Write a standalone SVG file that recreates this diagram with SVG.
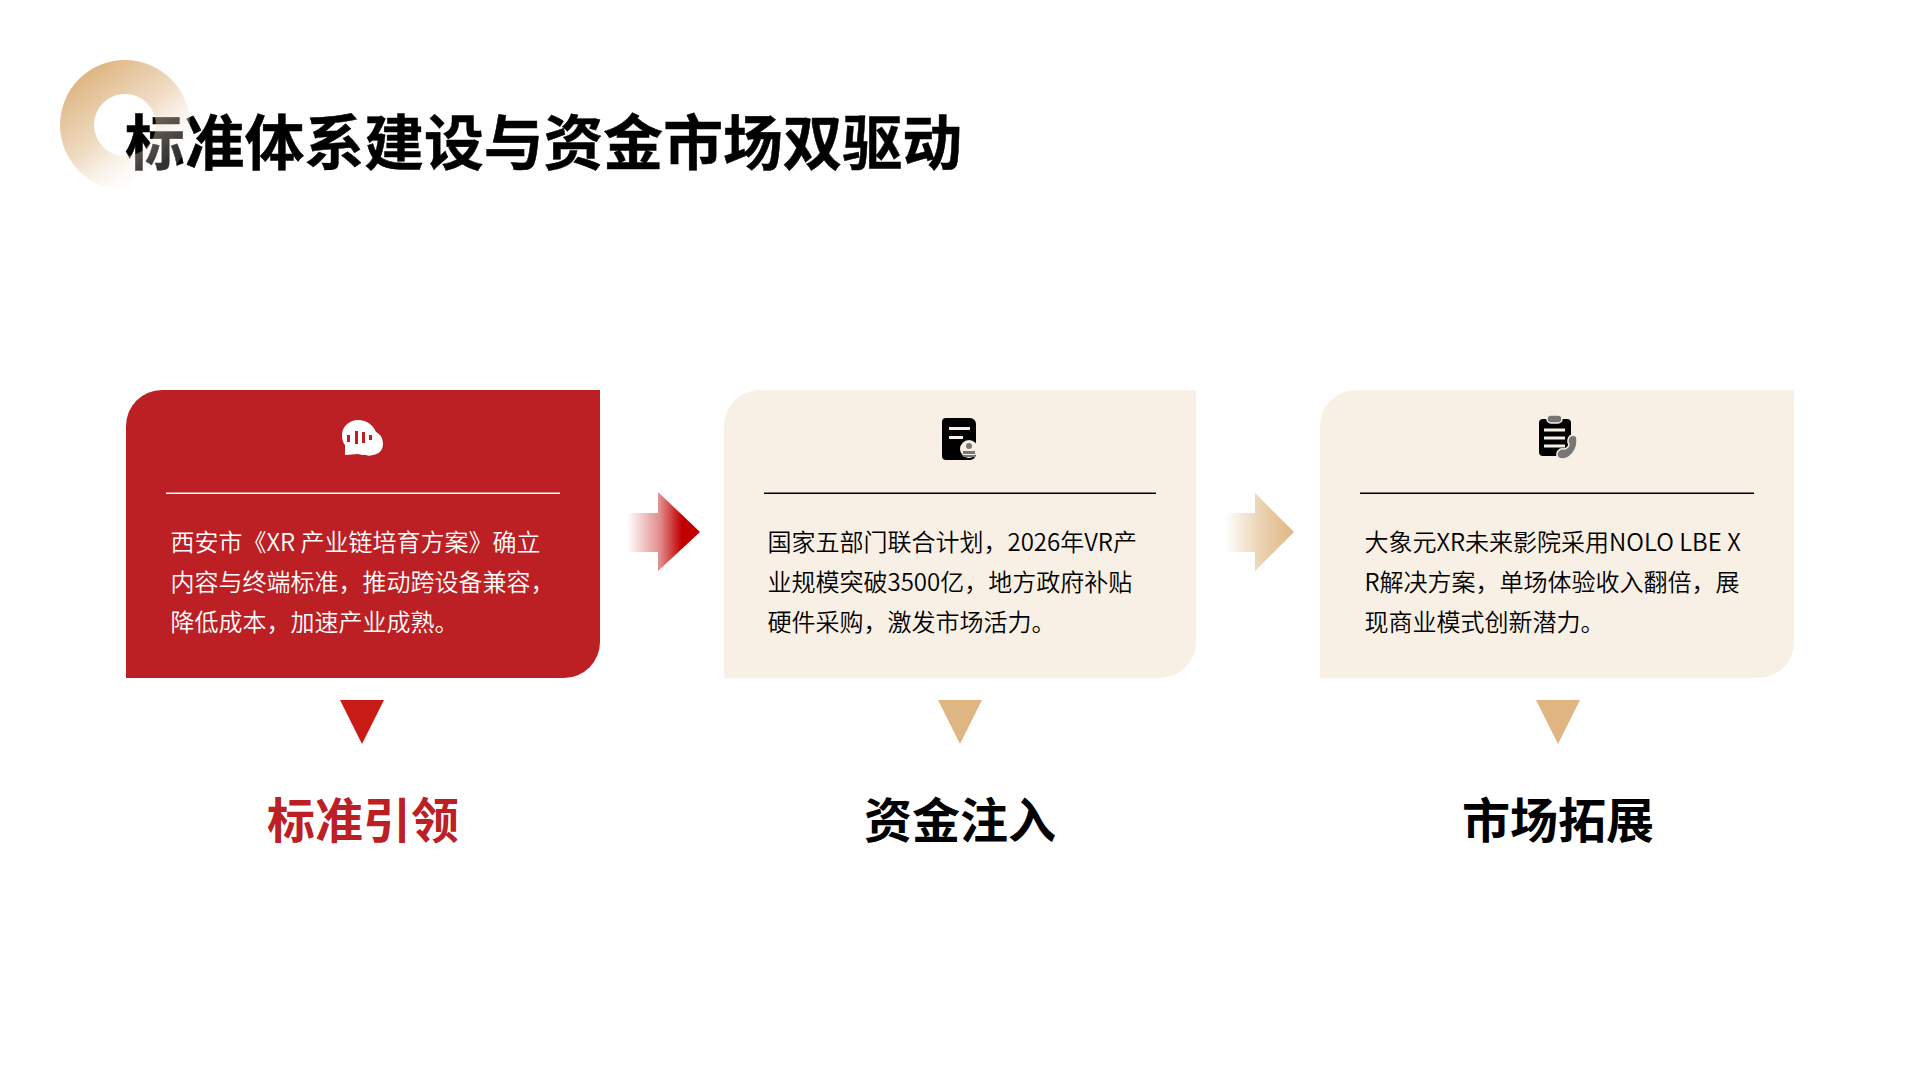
<svg xmlns="http://www.w3.org/2000/svg" width="1920" height="1080" viewBox="0 0 1920 1080">
<style>
text{font-family:"Noto Sans CJK SC","Noto Sans",sans-serif}
.body{font-size:24px;fill:#000;font-weight:350}
.bodyw{font-size:24px;fill:#fff;font-weight:350}
.lab{font-size:48px;font-weight:700;text-anchor:middle}
</style>
<defs>
<linearGradient id="ring" x1="0.15" y1="0.1" x2="0.72" y2="0.85"><stop offset="0" stop-color="#DDB27C"/><stop offset="0.55" stop-color="#E3C096" stop-opacity="0.55"/><stop offset="1" stop-color="#fff" stop-opacity="0.2"/></linearGradient>
<linearGradient id="ar" x1="0" x2="1" y1="0" y2="0"><stop offset="0" stop-color="#C00000" stop-opacity="0"/><stop offset="0.45" stop-color="#C00000" stop-opacity="0.45"/><stop offset="0.75" stop-color="#C00000"/><stop offset="1" stop-color="#C00000"/></linearGradient>
<linearGradient id="ag" x1="0" x2="1" y1="0" y2="0"><stop offset="0" stop-color="#DFB682" stop-opacity="0"/><stop offset="0.5" stop-color="#DFB682" stop-opacity="0.6"/><stop offset="1" stop-color="#DFB682"/></linearGradient>
</defs>
<rect width="1920" height="1080" fill="#fff"/>
<g id="title"><text x="125" y="165" fill="#000" stroke="#000" stroke-width="0.5" font-weight="700" style="font-size:59.8px">标准体系建设与资金市场双驱动</text>
<path d="M125 60a65 65 0 1 0 0 130a65 65 0 1 0 0-130zM125 94a31 31 0 1 1 0 62a31 31 0 1 1 0-62z" fill="url(#ring)" fill-rule="evenodd"/></g>
<g id="connectors">
<path d="M627 513H658V492L700 532L658 571V552H627Z" fill="url(#ar)"/>
<path d="M1225 513H1255V493L1294 532L1255 571V552H1225Z" fill="url(#ag)"/>
</g>
<g id="node1">
<path d="M126 678V426a36 36 0 0 1 36-36H600V642a36 36 0 0 1-36 36Z" fill="#BC2024"/>
<rect x="166" y="492.500" width="394" height="1.500" fill="#fff"/>
<path d="M358 420c-9 0-16 7-16 15c0 4 1 8 3 10l0 10c4 0 9-1 13-1c3 1 6 1 8 1c2 1 4 1 7 0c7-1 10-6 10-11c0-6-3-10-7-12c-3-7-9-12-18-12Z" fill="#fff"/>
<path d="M347 435h3v7h-3zM355 431h3v13h-3zM362 432h3v11h-3zM369 435h3v5h-3z" fill="#BC2024"/>
<text class="bodyw" x="170.500" y="551">西安市《XR 产业链培育方案》确立</text>
<text class="bodyw" x="170.500" y="591">内容与终端标准，推动跨设备兼容，</text>
<text class="bodyw" x="170.500" y="631">降低成本，加速产业成熟。</text>
<path d="M340 700H384L362 744Z" fill="#C91C17"/>
<text class="lab" x="363" y="838" fill="#BC2024">标准引领</text>
</g>
<g id="node2">
<path d="M724 678V426a36 36 0 0 1 36-36H1196V642a36 36 0 0 1-36 36Z" fill="#F8F0E5"/>
<rect x="764" y="492.500" width="392" height="1.500" fill="#000"/>
<path d="M946 418h24a6 6 0 0 1 6 6v30a6 6 0 0 1-6 6h-24a4 4 0 0 1-4-4v-34a4 4 0 0 1 4-4Z" fill="#000"/>
<path d="M949 427h21v3h-21zM949 436h14v3h-14z" fill="#F8F0E5"/>
<circle cx="969" cy="449" r="9" fill="#F8F0E5"/>
<circle cx="969" cy="446" r="3" fill="#777"/><path d="M963 451h12v3h-12zM963 455h12v2h-12z" fill="#777"/>
<text class="body" x="767.500" y="551">国家五部门联合计划，2026年VR产</text>
<text class="body" x="767.500" y="591">业规模突破3500亿，地方政府补贴</text>
<text class="body" x="767.500" y="631">硬件采购，激发市场活力。</text>
<path d="M938 700H982L960 744Z" fill="#DFB682"/>
<text class="lab" x="960" y="838" fill="#000">资金注入</text>
</g>
<g id="node3">
<path d="M1320 678V426a36 36 0 0 1 36-36H1794V642a36 36 0 0 1-36 36Z" fill="#F8F0E5"/>
<rect x="1360" y="492.500" width="394" height="1.500" fill="#000"/>
<path d="M1543 419h24a4 4 0 0 1 4 4v29a4 4 0 0 1-4 4h-24a4 4 0 0 1-4-4v-29a4 4 0 0 1 4-4Z" fill="#000"/>
<rect x="1547" y="415" width="15" height="8" rx="4" fill="#777" stroke="#F8F0E5" stroke-width="1.500"/>
<path d="M1544 430h21M1544 438h21M1544 446h21" stroke="#F8F0E5" stroke-width="3"/>
<path d="M1570 436c4-2 7 0 7 3c1 10-6 19-14 20c-4 0-7-2-6-6c1-3 4-5 7-4c3 0 5-3 5-5c-2-2-1-6 1-8Z" fill="#777" stroke="#F8F0E5" stroke-width="1.500"/>
<text class="body" x="1364.500" y="551">大象元XR未来影院采用NOLO LBE X</text>
<text class="body" x="1364.500" y="591">R解决方案，单场体验收入翻倍，展</text>
<text class="body" x="1364.500" y="631">现商业模式创新潜力。</text>
<path d="M1536 700H1580L1558 744Z" fill="#DFB682"/>
<text class="lab" x="1558" y="838" fill="#000">市场拓展</text>
</g>
</svg>
